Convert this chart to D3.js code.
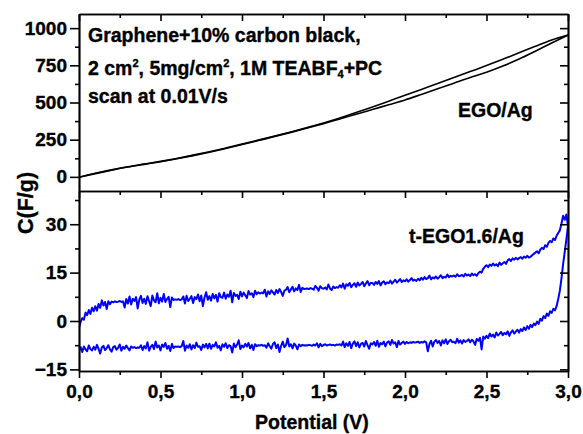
<!DOCTYPE html>
<html><head><meta charset="utf-8">
<script src="https://cdn.jsdelivr.net/npm/d3@7"></script>
<style>
html,body{margin:0;padding:0;background:#fff;}
svg{display:block;font-family:"Liberation Sans",Arial,sans-serif;font-weight:bold;}
text{stroke:#000;stroke-width:0.35px;}
</style></head><body>
<svg id="c" width="583" height="434"></svg>
<script>
// ---------- tick values ----------
const xTicks = [0, 0.5, 1, 1.5, 2, 2.5, 3];
const xMinor = [0.25, 0.75, 1.25, 1.75, 2.25, 2.75];
const topTicks = [0, 250, 500, 750, 1000];
const topMinor = [125, 375, 625, 875];
const botTicks = [-15, 0, 15, 30];
const botMinor = [-7.5, 7.5, 22.5, 37.5];

// ---------- top panel: EGO/Ag (black) ----------
const egoPotential = [0,0.1,0.2,0.3,0.4,0.5,0.6,0.7,0.8,0.9,1.0,1.1,1.2,1.3,1.4,1.5,1.6,1.7,1.8,1.9,2.0,2.1,2.2,2.3,2.4,2.5,2.6,2.7,2.8,2.9,3.0];
const egoForward = [-3,22,45,66,84,102,122,143,166,191,217,244,271,299,328,358,390,421,453,485,517,554,592,630,668,703,745,792,845,900,953];
const egoReverse = [-3,24,47,68,86,104,124,146,169,194,220,247,274,302,331,362,396,432,470,509,548,588,628,668,708,748,790,834,878,920,953];

// ---------- bottom panel: t-EGO1.6/Ag (blue) ----------
const potential = [
0,0.01,0.02,0.03,0.04,0.05,0.06,0.07,0.08,0.09,
0.1,0.11,0.12,0.13,0.14,0.15,0.16,0.17,0.18,0.19,
0.2,0.21,0.22,0.23,0.24,0.25,0.26,0.27,0.28,0.29,
0.3,0.31,0.32,0.33,0.34,0.35,0.36,0.37,0.38,0.39,
0.4,0.41,0.42,0.43,0.44,0.45,0.46,0.47,0.48,0.49,
0.5,0.51,0.52,0.53,0.54,0.55,0.56,0.57,0.58,0.59,
0.6,0.61,0.62,0.63,0.64,0.65,0.66,0.67,0.68,0.69,
0.7,0.71,0.72,0.73,0.74,0.75,0.76,0.77,0.78,0.79,
0.8,0.81,0.82,0.83,0.84,0.85,0.86,0.87,0.88,0.89,
0.9,0.91,0.92,0.93,0.94,0.95,0.96,0.97,0.98,0.99,
1.0,1.01,1.02,1.03,1.04,1.05,1.06,1.07,1.08,1.09,
1.1,1.11,1.12,1.13,1.14,1.15,1.16,1.17,1.18,1.19,
1.2,1.21,1.22,1.23,1.24,1.25,1.26,1.27,1.28,1.29,
1.3,1.31,1.32,1.33,1.34,1.35,1.36,1.37,1.38,1.39,
1.4,1.41,1.42,1.43,1.44,1.45,1.46,1.47,1.48,1.49,
1.5,1.51,1.52,1.53,1.54,1.55,1.56,1.57,1.58,1.59,
1.6,1.61,1.62,1.63,1.64,1.65,1.66,1.67,1.68,1.69,
1.7,1.71,1.72,1.73,1.74,1.75,1.76,1.77,1.78,1.79,
1.8,1.81,1.82,1.83,1.84,1.85,1.86,1.87,1.88,1.89,
1.9,1.91,1.92,1.93,1.94,1.95,1.96,1.97,1.98,1.99,
2.0,2.01,2.02,2.03,2.04,2.05,2.06,2.07,2.08,2.09,
2.1,2.11,2.12,2.13,2.14,2.15,2.16,2.17,2.18,2.19,
2.2,2.21,2.22,2.23,2.24,2.25,2.26,2.27,2.28,2.29,
2.3,2.31,2.32,2.33,2.34,2.35,2.36,2.37,2.38,2.39,
2.4,2.41,2.42,2.43,2.44,2.45,2.46,2.47,2.48,2.49,
2.5,2.51,2.52,2.53,2.54,2.55,2.56,2.57,2.58,2.59,
2.6,2.61,2.62,2.63,2.64,2.65,2.66,2.67,2.68,2.69,
2.7,2.71,2.72,2.73,2.74,2.75,2.76,2.77,2.78,2.79,
2.8,2.81,2.82,2.83,2.84,2.85,2.86,2.87,2.88,2.89,
2.9,2.91,2.92,2.93,2.94,2.95,2.96,2.97,2.98,2.99,
3.0];
const anodic = [
-2.1,-0.3,0.9,0.4,2.6,1.8,3.4,2.2,4.1,3.0,
4.6,3.2,5.3,4.1,6.4,4.8,5.9,3.7,6.1,5.2,
6.0,5.8,6.1,5.9,6.0,6.2,5.9,6.1,4.2,6.8,
5.4,7.6,5.1,6.9,6.2,7.4,3.9,6.6,7.8,5.6,
6.9,5.3,7.7,6.1,4.6,7.9,6.4,5.8,8.6,5.5,
7.2,6.0,8.4,5.9,6.8,7.5,4.3,7.3,6.5,6.7,
6.6,6.8,6.5,6.7,7.6,5.4,7.8,6.2,6.9,7.7,
5.6,7.4,6.8,8.2,6.1,7.9,4.6,7.3,8.9,6.6,
7.7,6.3,8.4,7.0,8.1,6.0,8.6,7.4,7.2,8.8,
6.9,8.2,7.5,9.4,5.8,8.7,7.8,8.1,6.8,9.1,
7.6,8.8,8.0,7.1,9.3,8.2,8.6,7.4,9.4,8.3,
8.9,8.5,8.8,8.6,9.7,7.6,9.2,8.4,9.5,8.9,
8.2,9.6,8.7,9.9,9.0,7.8,9.4,9.7,10.5,8.9,
9.8,10.6,9.2,10.1,9.6,11.2,9.0,10.3,9.9,10.0,
10.1,9.9,10.2,10.0,9.7,10.9,10.3,9.4,10.8,10.2,
10.0,10.4,9.8,11.3,10.1,9.6,10.7,10.2,10.5,10.3,
11.1,10.4,11.6,10.0,11.4,10.9,11.8,10.5,11.2,11.7,
10.6,11.9,11.0,11.5,12.1,10.8,11.6,12.4,11.1,11.8,
11.8,11.2,12.1,11.5,12.4,11.0,11.9,12.3,11.4,12.0,
11.7,12.5,11.6,12.2,12.8,11.9,12.4,13.0,12.1,12.6,
12.3,12.9,12.2,12.7,13.3,12.5,12.8,12.4,13.1,12.6,
13.4,12.8,13.6,13.0,13.3,14.1,12.9,13.5,13.2,13.8,
13.1,13.6,14.2,13.3,13.7,13.5,14.4,13.6,14.0,13.8,
14.1,13.7,14.5,13.9,14.0,14.3,13.8,14.6,14.1,14.4,
13.9,14.7,14.2,14.5,14.0,14.8,15.3,15.0,16.2,16.8,
17.3,16.7,17.5,17.1,17.8,17.2,17.6,17.0,18.1,17.4,
17.9,18.3,17.7,18.8,19.2,18.6,19.4,19.0,19.6,19.1,
19.5,19.8,19.3,20.0,19.6,20.2,19.7,19.9,20.4,20.8,
21.2,21.6,21.0,22.1,22.7,22.3,23.5,23.0,24.2,24.8,
24.4,25.6,25.1,26.4,27.3,28.1,30.2,32.6,31.4,33.0,
29.5];
const cathodic = [
-9.2,-8.1,-9.6,-7.9,-8.8,-9.4,-7.6,-8.7,-9.1,-8.0,
-8.9,-7.4,-8.6,-10.1,-8.2,-7.7,-9.0,-8.4,-7.5,-8.8,
-9.5,-8.1,-7.8,-8.9,-8.3,-7.3,-9.2,-8.0,-8.6,-7.6,
-8.4,-9.1,-7.9,-8.3,-8.1,-8.4,-8.2,-8.3,-7.5,-9.0,
-7.8,-8.5,-6.6,-9.2,-8.0,-7.4,-8.7,-6.4,-8.2,-7.6,
-9.1,-7.3,-8.0,-6.8,-8.6,-7.7,-9.3,-7.1,-8.4,-7.9,
-8.0,-7.9,-8.1,-7.8,-6.2,-9.2,-7.6,-8.3,-7.2,-8.8,
-7.5,-8.4,-6.7,-8.0,-7.8,-9.0,-7.3,-8.2,-7.1,-8.5,
-7.0,-8.6,-7.4,-7.9,-6.6,-8.3,-7.7,-9.1,-7.2,-8.0,
-6.9,-8.4,-7.5,-7.8,-9.8,-7.0,-8.1,-7.3,-6.0,-8.7,
-7.6,-8.2,-7.1,-7.9,-6.8,-8.5,-7.4,-9.0,-7.2,-7.8,
-7.5,-7.6,-7.4,-7.7,-7.5,-8.3,-6.9,-7.8,-8.6,-7.1,
-6.6,-8.4,-7.3,-9.6,-7.7,-6.4,-8.1,-7.5,-5.4,-7.9,
-7.2,-8.5,-7.0,-7.6,-8.8,-7.3,-7.8,-7.4,-7.6,-7.5,
-7.6,-7.4,-7.5,-7.7,-7.3,-7.6,-6.9,-8.2,-7.1,-7.8,
-7.5,-7.2,-7.6,-7.4,-7.3,-7.5,-7.4,-7.6,-7.3,-7.4,
-7.2,-7.6,-6.4,-8.1,-6.9,-7.7,-6.5,-8.4,-7.0,-6.3,
-7.8,-6.6,-8.2,-7.1,-6.8,-7.9,-6.2,-7.5,-8.6,-6.9,
-7.3,-6.5,-7.7,-6.1,-8.0,-6.8,-7.2,-6.4,-7.9,-6.7,
-6.3,-7.4,-5.9,-7.0,-6.6,-8.1,-6.2,-7.3,-6.8,-6.4,
-7.1,-6.5,-6.9,-6.6,-6.8,-6.5,-6.7,-6.6,-6.4,-6.8,
-6.5,-6.7,-6.3,-6.6,-9.4,-7.2,-6.1,-7.9,-6.4,-5.9,
-6.8,-6.2,-7.6,-6.0,-6.9,-5.7,-7.1,-6.3,-5.8,-6.6,
-6.4,-6.9,-5.5,-6.7,-6.0,-7.0,-5.9,-6.5,-6.2,-5.7,
-6.6,-5.8,-6.3,-7.4,-5.6,-6.1,-5.2,-8.8,-4.8,-5.5,
-4.6,-5.3,-3.9,-4.8,-4.2,-5.1,-3.6,-4.5,-4.0,-3.4,
-4.4,-3.7,-4.1,-3.2,-4.6,-3.5,-2.9,-3.9,-3.3,-2.7,
-3.6,-2.5,-3.1,-2.0,-2.8,-1.6,-2.4,-1.2,-1.9,-0.8,
-1.3,-0.2,-0.9,0.7,0.1,1.5,0.9,2.3,1.6,3.0,
2.5,3.8,3.3,4.6,6.8,9.4,13.2,17.6,21.5,25.2,
29.5];

// ---------- layout ----------
const svg = d3.select("#c");
const L = 79, R = 568, T = 14, M = 191, B = 371;
const x = d3.scaleLinear().domain([0, 3]).range([L, R]);
const yTop = d3.scaleLinear().domain([-95, 1095]).range([M, T]);
const yBot = d3.scaleLinear().domain([-15.5, 40.3]).range([B, M]);
const commaFmt = d => d3.format(".1f")(d).replace(".", ",");
const FS = 19;

function axis(gen, tx, ty, values, size, fmt) {
  const g = svg.append("g").attr("transform", `translate(${tx},${ty})`)
    .call(gen.tickValues(values).tickSize(size).tickSizeOuter(0).tickFormat(fmt || (() => "")));
  g.attr("font-family", null).attr("font-size", null);
  g.select(".domain").attr("stroke", "#000").attr("stroke-width", 1.7);
  g.selectAll(".tick line").attr("stroke", "#000").attr("stroke-width", 1.6);
  g.selectAll(".tick text").attr("fill", "#000").style("font-size", FS + "px").style("font-weight", "bold");
  return g;
}

// data clip regions
svg.append("clipPath").attr("id", "clipTop").append("rect").attr("x", L).attr("y", T).attr("width", R - L).attr("height", M - T);
svg.append("clipPath").attr("id", "clipBot").append("rect").attr("x", L).attr("y", M).attr("width", R - L).attr("height", B - M);

// top panel curves
const topLine = d3.line().x((d, i) => x(egoPotential[i])).y(d => yTop(d)).curve(d3.curveMonotoneX);
const gTop = svg.append("g").attr("clip-path", "url(#clipTop)");
[egoForward, egoReverse].forEach(s => {
  gTop.append("path").attr("d", topLine(s)).attr("fill", "none").attr("stroke", "#000").attr("stroke-width", 1.6);
});

// bottom panel loop: anodic sweep forward, cathodic sweep back, closing at 0 V
const loop = potential.map((p, i) => [p, anodic[i]])
  .concat(potential.map((p, i) => [p, cathodic[i]]).reverse())
  .concat([[potential[0], anodic[0]]]);
const botLine = d3.line().x(d => x(d[0])).y(d => yBot(d[1]));
svg.append("g").attr("clip-path", "url(#clipBot)")
  .append("path").attr("d", botLine(loop)).attr("fill", "none")
  .attr("stroke", "#0000ff").attr("stroke-width", 2).attr("stroke-linejoin", "round");

// ---------- axes: top panel ----------
axis(d3.axisLeft(yTop), L, 0, topTicks, 9, d => d3.format("d")(d));
axis(d3.axisLeft(yTop), L, 0, topMinor, 4);
axis(d3.axisRight(yTop), R, 0, topTicks, -8);
axis(d3.axisRight(yTop), R, 0, topMinor, -4);
axis(d3.axisTop(x), 0, T, xTicks, -7);
axis(d3.axisTop(x), 0, T, xMinor, -4);

// ---------- axes: bottom panel ----------
axis(d3.axisLeft(yBot), L, 0, botTicks, 9, d => d3.format("d")(d));
axis(d3.axisLeft(yBot), L, 0, botMinor, 4);
axis(d3.axisRight(yBot), R, 0, botTicks, -8);
axis(d3.axisRight(yBot), R, 0, botMinor, -4);
axis(d3.axisTop(x), 0, M, xTicks, -7);
axis(d3.axisTop(x), 0, M, xMinor, -4);
const xb = axis(d3.axisBottom(x), 0, B, xTicks, 7, commaFmt);
xb.selectAll(".tick text").attr("y", 14);
axis(d3.axisBottom(x), 0, B, xMinor, 4);

// ---------- texts ----------
function txt(s, tx, ty, size, anchor) {
  return svg.append("text").attr("x", tx).attr("y", ty).attr("text-anchor", anchor || "start")
    .style("font-size", size + "px").style("font-weight", "bold").attr("fill", "#000").text(s);
}
const ann = 19.5;
txt("Graphene+10% carbon black,", 88, 42, ann);
const l2 = svg.append("text").attr("x", 88).attr("y", 75).style("font-size", ann + "px").style("font-weight", "bold");
l2.append("tspan").text("2 cm");
l2.append("tspan").attr("dy", -8).style("font-size", "11px").text("2");
l2.append("tspan").attr("dy", 8).text(", 5mg/cm");
l2.append("tspan").attr("dy", -8).style("font-size", "11px").text("2");
l2.append("tspan").attr("dy", 8).text(", 1M TEABF");
l2.append("tspan").attr("dy", 3).style("font-size", "11px").text("4");
l2.append("tspan").attr("dy", -3).text("+PC");
txt("scan at 0.01V/s", 88, 103, ann);

txt("EGO/Ag", 458, 117, 19.5);
txt("t-EGO1.6/Ag", 409, 243, 19.5);

txt("Potential (V)", 312, 429, 19.5, "middle");
svg.append("text").attr("transform", "translate(33,203) rotate(-90)").attr("text-anchor", "middle")
  .style("font-size", "21.5px").style("font-weight", "bold").text("C(F/g)");
</script>
</body></html>
